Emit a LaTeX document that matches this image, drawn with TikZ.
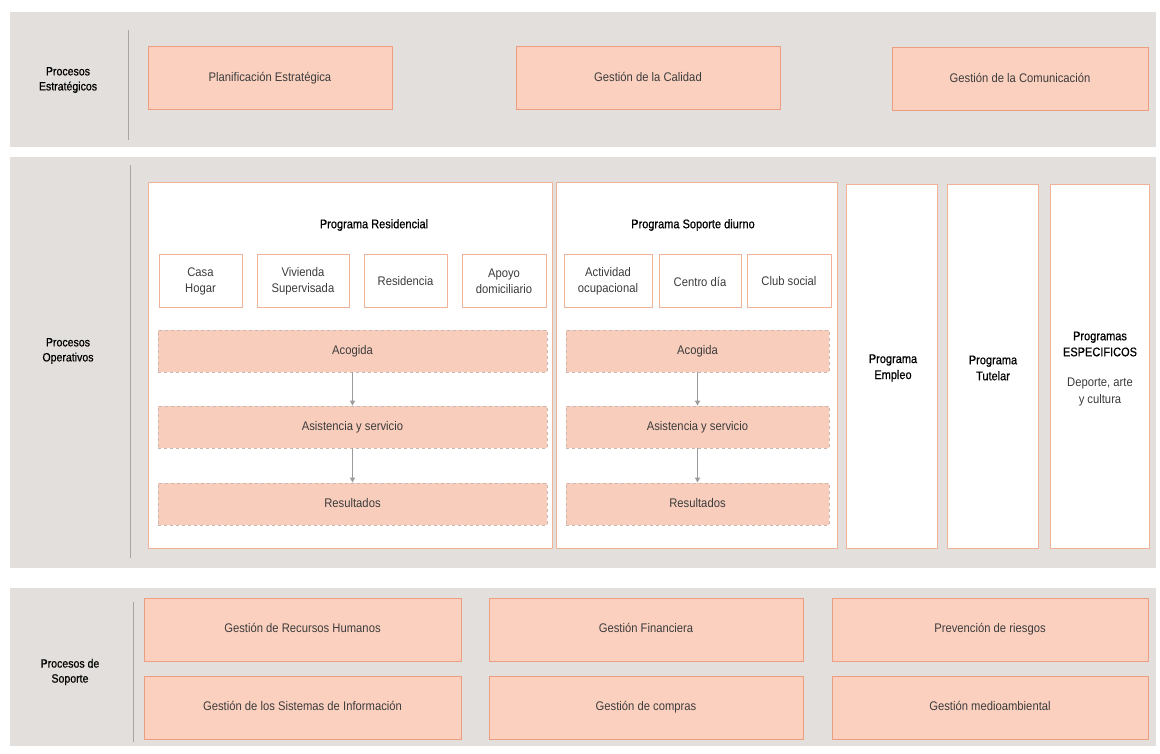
\documentclass[tikz,border=0pt]{standalone}
\usepackage{fontspec}
\setmainfont[FakeStretch=0.9]{Liberation Sans}
\newfontfamily\boldish[FakeBold=0.6,FakeStretch=0.88]{Liberation Sans}
\usetikzlibrary{arrows.meta}
\definecolor{bandgray}{HTML}{E2DFDC}
\definecolor{salfill}{HTML}{FBD0BF}
\definecolor{salline}{HTML}{EE9E80}
\definecolor{subline}{HTML}{F0B39A}
\definecolor{dashfill}{HTML}{F8CDBC}
\definecolor{dashline}{HTML}{C9B7AE}
\definecolor{sepgray}{HTML}{A9A5A1}
\definecolor{txt}{HTML}{3C3C3C}
\definecolor{arrgray}{HTML}{9C9C9C}
\tikzset{
  band/.style={fill=bandgray, draw=none},
  sep/.style={draw=sepgray, line width=1pt},
  lbl/.style={align=center, text=black, font=\boldish\fontsize{12}{15}\selectfont},
  sbox/.style={draw=salline, fill=salfill, line width=1pt, text=txt, align=center, inner sep=0pt, text height=9pt, text depth=3pt, font=\fontsize{12.5}{15.5}\selectfont},
  panel/.style={draw=subline, fill=white, line width=1pt, inner sep=0pt},
  subbox/.style={draw=subline, fill=white, line width=1pt, text=txt, align=center, inner sep=0pt, font=\fontsize{12.5}{16}\selectfont},
  dbox/.style={draw=dashline, fill=dashfill, dashed, line width=0.8pt, text=txt, align=center, inner sep=0pt, text height=9pt, text depth=3pt, font=\fontsize{12.5}{15.5}\selectfont},
  ttl/.style={align=center, text=black, font=\boldish\fontsize{12.5}{16}\selectfont},
  plain/.style={align=center, text=txt, font=\fontsize{12.5}{16.5}\selectfont},
  arr/.style={draw=arrgray, line width=0.9pt, -{Triangle[length=5pt,width=5pt]}}
}
\begin{document}
\begin{tikzpicture}[x=1pt,y=-1pt]
\useasboundingbox (0,0) rectangle (1160,754);
\fill[white] (0,0) rectangle (1160,754);
% bands
\fill[band] (10,12) rectangle (1156,147);
\fill[band] (10,157) rectangle (1156,568);
\fill[band] (10,588) rectangle (1156,746);
% separators
\draw[sep] (128,30) -- (128,140);
\draw[sep] (130,165) -- (130,558);
\draw[sep] (133,602) -- (133,742);
% band labels
\node[lbl] (lstrat) at (68,80) {Procesos\\Estratégicos};
\node[lbl] (loper) at (68,351) {Procesos\\Operativos};
\node[lbl] (lsop) at (70,672) {Procesos de\\Soporte};
% strategic boxes
\node[sbox, minimum width=244pt, minimum height=63pt] (plan) at (270,78.5) {Planificación Estratégica};
\node[sbox, minimum width=264pt, minimum height=63pt] (cal) at (648,78.5) {Gestión de la Calidad};
\node[sbox, minimum width=256pt, minimum height=63pt] (com) at (1020,79.5) {Gestión de la Comunicación};
% operative panels
\node[panel, minimum width=404pt, minimum height=365pt] (pres) at (350,365.5) {};
\node[panel, minimum width=281pt, minimum height=365pt] (psop) at (696.5,365.5) {};
\node[panel, plain, minimum width=91pt, minimum height=363pt] (pemp) at (891.5,366.5) {};
\node[panel, plain, minimum width=91pt, minimum height=363pt] (ptut) at (992.5,366.5) {};
\node[panel, plain, minimum width=99pt, minimum height=363pt] (pesp) at (1099.5,366.5) {};
\node[ttl] (temp) at (893,368) {Programa\\Empleo};
\node[ttl] (ttut) at (993,368) {Programa\\Tutelar};
\node[ttl] (tesp) at (1100,344) {Programas\\ESPECIFICOS};
\node[plain] (desp) at (1100,392) {Deporte, arte\\y cultura};
% titles
\node[ttl] (tres) at (374,225) {Programa Residencial};
\node[ttl] (tsop) at (693,225) {Programa Soporte diurno};
% sub boxes
\node[subbox, minimum width=83pt, minimum height=53pt] (casa) at (200.5,281.5) {Casa\\Hogar};
\node[subbox, minimum width=92pt, minimum height=53pt] (viv) at (303,281.5) {Vivienda\\Supervisada};
\node[subbox, minimum width=83pt, minimum height=53pt] (resi) at (405.5,281.5) {Residencia};
\node[subbox, minimum width=84pt, minimum height=53pt] (apoyo) at (504,281.5) {Apoyo\\domiciliario};
\node[subbox, minimum width=88pt, minimum height=53pt] (act) at (608,281.5) {Actividad\\ocupacional};
\node[subbox, minimum width=82pt, minimum height=53pt] (cdia) at (700,281.5) {Centro día};
\node[subbox, minimum width=84pt, minimum height=53pt] (club) at (789,281.5) {Club social};
% dashed process boxes
\node[dbox, minimum width=389pt, minimum height=42pt] (racog) at (352.5,351) {Acogida};
\node[dbox, minimum width=389pt, minimum height=42pt] (rasis) at (352.5,427) {Asistencia y servicio};
\node[dbox, minimum width=389pt, minimum height=42pt] (rres) at (352.5,504) {Resultados};
\node[dbox, minimum width=263pt, minimum height=42pt] (sacog) at (697.5,351) {Acogida};
\node[dbox, minimum width=263pt, minimum height=42pt] (sasis) at (697.5,427) {Asistencia y servicio};
\node[dbox, minimum width=263pt, minimum height=42pt] (sres) at (697.5,504) {Resultados};
\draw[arr] (racog.south) -- (rasis.north);
\draw[arr] (rasis.south) -- (rres.north);
\draw[arr] (sacog.south) -- (sasis.north);
\draw[arr] (sasis.south) -- (sres.north);
% support boxes
\node[sbox, minimum width=317pt, minimum height=63pt] (rrhh) at (302.5,629.5) {Gestión de Recursos Humanos};
\node[sbox, minimum width=314pt, minimum height=63pt] (fin) at (646,629.5) {Gestión Financiera};
\node[sbox, minimum width=316pt, minimum height=63pt] (prev) at (990,629.5) {Prevención de riesgos};
\node[sbox, minimum width=317pt, minimum height=63pt] (sis) at (302.5,707.5) {Gestión de los Sistemas de Información};
\node[sbox, minimum width=314pt, minimum height=63pt] (comp) at (646,707.5) {Gestión de compras};
\node[sbox, minimum width=316pt, minimum height=63pt] (amb) at (990,707.5) {Gestión medioambiental};
\end{tikzpicture}
\end{document}
